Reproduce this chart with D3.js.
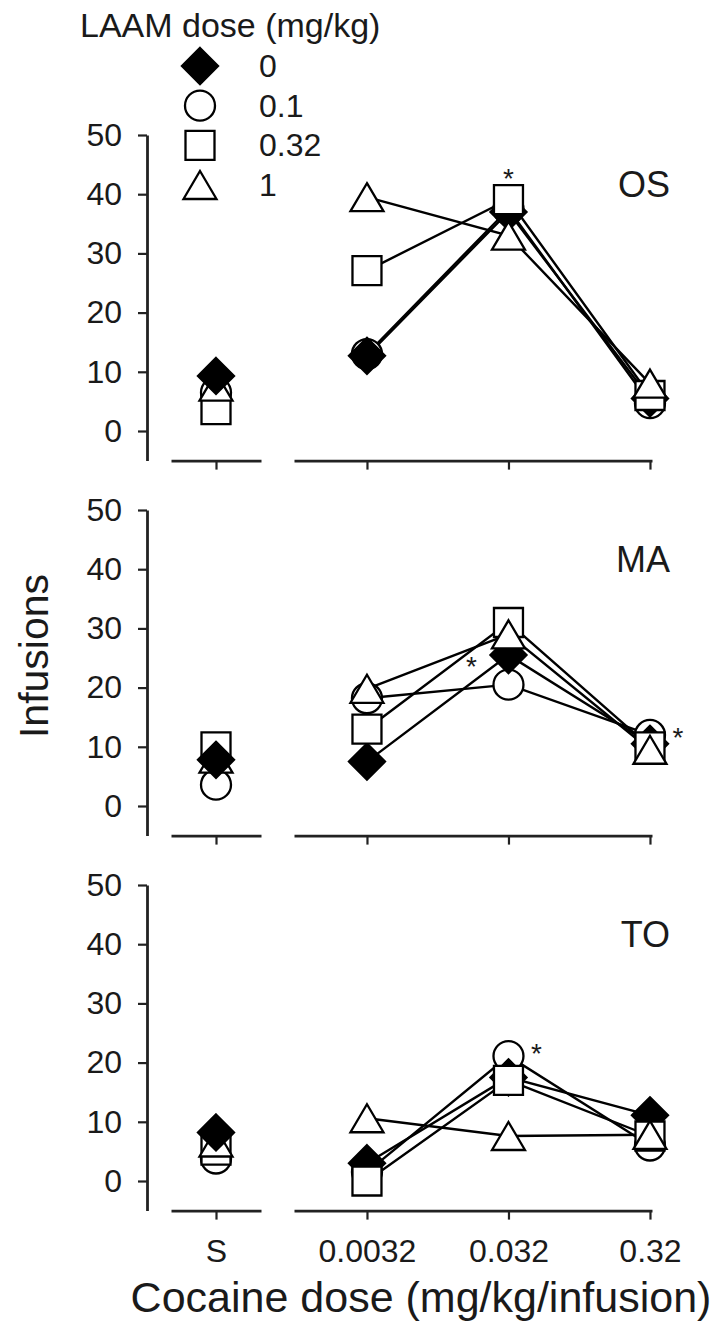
<!DOCTYPE html>
<html><head><meta charset="utf-8">
<script src="https://cdn.jsdelivr.net/npm/d3@7"></script>
<style>body{margin:0;background:#fff}svg{display:block}</style>
</head><body><svg id="chart" width="715" height="1324"></svg>
<script>
// ---------- data ----------
const categories = ["S", "0.0032", "0.032", "0.32"];
const doseCategories = ["0.0032", "0.032", "0.32"];
const laamDoses = ["0", "0.1", "0.32", "1"];
const markerShapes = ["diamond", "circle", "square", "triangle"];
const panelNames = ["OS", "MA", "TO"];
const yTickValues = [0, 10, 20, 30, 40, 50];

// infusions per LAAM dose: [S, 0.0032, 0.032, 0.32]
const osValues = [
  [9.3, 12.7, 37.0, 5.5],   // 0
  [6.5, 13.0, 37.5, 4.7],   // 0.1
  [3.6, 27.1, 39.1, 6.0],   // 0.32
  [7.5, 39.5, 33.0, 8.0]    // 1
];
const maValues = [
  [7.8, 7.5, 25.5, 10.5],
  [3.6, 18.2, 20.5, 12.0],
  [10.0, 13.0, 31.0, 10.0],
  [8.0, 19.8, 29.0, 9.5]
];
const toValues = [
  [8.2, 3.0, 17.5, 11.1],
  [3.8, 1.5, 21.1, 6.0],
  [5.2, 0.0, 17.0, 7.6],
  [6.5, 10.6, 7.6, 7.8]
];
const panelValues = [osValues, maValues, toValues];

// significance markers: panel, category, value, side
const asteriskPanels = ["OS", "MA", "MA", "TO"];
const asteriskCategories = ["0.032", "0.032", "0.32", "0.032"];
const asteriskValues = [43.7, 24.7, 12.7, 22.6];
const asteriskSides = ["above", "left", "right", "right"];

// ---------- layout ----------
const svg = d3.select("#chart");
const FONT = "'Liberation Sans', Arial, Helvetica, sans-serif";
const TEXT = "#1a1a1a";
const axisX = 147;
const panelTop0 = 135, panelStep = 375, panelH = 325.6;

const xS = d3.scalePoint().domain(["S"]).range([171, 261]).padding(0.5);
const xDose = d3.scalePoint().domain(doseCategories).range([294, 652]).padding(0.265).align(0.973);
const xPos = c => c === "S" ? xS(c) : xDose(c);

function markerPath(shape) {
  const p = d3.path();
  if (shape === "diamond") { p.moveTo(0, -18); p.lineTo(18, 0); p.lineTo(0, 18); p.lineTo(-18, 0); p.closePath(); }
  else if (shape === "square") { p.rect(-14.5, -14.5, 29, 29); }
  else if (shape === "triangle") { p.moveTo(0, -14); p.lineTo(16.5, 14); p.lineTo(-16.5, 14); p.closePath(); }
  else { p.arc(0, 0, 15, 0, 2 * Math.PI); p.closePath(); }
  return p.toString();
}
function drawMarker(g, shape, x, y) {
  g.append("path").attr("d", markerPath(shape)).attr("transform", `translate(${x},${y})`)
    .attr("fill", shape === "diamond" ? "#000" : "#fff")
    .attr("stroke", "#000").attr("stroke-width", 2.3).attr("stroke-linejoin", "miter");
}

// stacking: saline column has the filled diamond on top; dose columns have it underneath
const salineOrder = [1, 2, 3, 0];
const doseOrder = [1, 0, 2, 3];

panelNames.forEach((name, pi) => {
  const top = panelTop0 + pi * panelStep;
  const y = d3.scaleLinear().domain([-5, 50]).range([top + panelH, top]);
  const g = svg.append("g");
  const isBottom = pi === panelNames.length - 1;

  // y axis
  const ya = g.append("g").attr("transform", `translate(${axisX},0)`)
    .call(d3.axisLeft(y).tickValues(yTickValues).tickSize(9).tickSizeOuter(0).tickPadding(16));
  ya.select(".domain").attr("stroke", "#222").attr("stroke-width", 2.8);
  ya.selectAll(".tick line").attr("stroke", "#222").attr("stroke-width", 2.2);
  ya.selectAll("text").attr("font-family", FONT).attr("font-size", 32).attr("fill", TEXT);

  // x axes (broken)
  [xS, xDose].forEach(sc => {
    const xa = g.append("g").attr("transform", `translate(0,${y(-5)})`)
      .call(d3.axisBottom(sc).tickSize(9).tickSizeOuter(0).tickPadding(20));
    xa.select(".domain").attr("stroke", "#222").attr("stroke-width", 2.8);
    xa.selectAll(".tick line").attr("stroke", "#222").attr("stroke-width", 2.2);
    xa.selectAll("text").attr("font-family", FONT).attr("font-size", 32).attr("fill", TEXT)
      .style("display", isBottom ? null : "none");
  });

  const vals = panelValues[pi];
  const line = d3.line().x(d => xPos(d.c)).y(d => y(d.v));
  // lines (cocaine doses only)
  vals.forEach(series => {
    const pts = doseCategories.map(c => ({ c, v: series[categories.indexOf(c)] }));
    g.append("path").attr("d", line(pts)).attr("fill", "none")
      .attr("stroke", "#000").attr("stroke-width", 2.4);
  });
  // markers
  categories.forEach((c, ci) => {
    const order = c === "S" ? salineOrder : doseOrder;
    order.forEach(si => drawMarker(g, markerShapes[si], xPos(c), y(vals[si][ci])));
  });

  // panel label
  g.append("text").attr("x", 670).attr("y", y(39.5)).attr("text-anchor", "end")
    .attr("font-family", FONT).attr("font-size", 36).attr("fill", TEXT).text(name);

  // asterisks
  asteriskPanels.forEach((ap, ai) => {
    if (ap !== name) return;
    const side = asteriskSides[ai];
    const dx = side === "left" ? -37 : side === "right" ? 28 : 0;
    g.append("text").attr("x", xPos(asteriskCategories[ai]) + dx)
      .attr("y", y(asteriskValues[ai]) + 16).attr("text-anchor", "middle")
      .attr("font-family", FONT).attr("font-size", 28).attr("fill", TEXT).text("*");
  });
});

// legend
svg.append("text").attr("x", 80).attr("y", 37).attr("font-family", FONT)
  .attr("font-size", 34).attr("fill", TEXT).text("LAAM dose (mg/kg)");
const legendY = d3.scalePoint().domain(laamDoses).range([66, 185]);
laamDoses.forEach((d, i) => {
  drawMarker(svg, markerShapes[i], 200, legendY(d));
  svg.append("text").attr("x", 259).attr("y", legendY(d) + 11).attr("font-family", FONT)
    .attr("font-size", 32).attr("fill", TEXT).text(d);
});

// axis titles
svg.append("text").attr("transform", "translate(48,656) rotate(-90)").attr("text-anchor", "middle")
  .attr("font-family", FONT).attr("font-size", 41).attr("fill", TEXT).text("Infusions");
svg.append("text").attr("x", 421).attr("y", 1312).attr("text-anchor", "middle")
  .attr("font-family", FONT).attr("font-size", 43).attr("fill", TEXT).text("Cocaine dose (mg/kg/infusion)");
</script></body></html>
